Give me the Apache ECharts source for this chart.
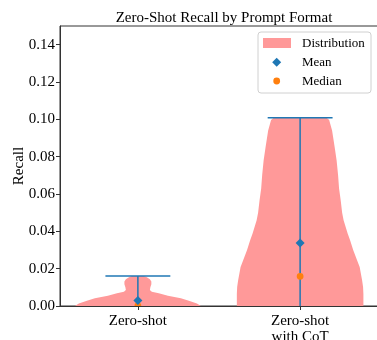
<!DOCTYPE html>
<html>
<head>
<meta charset="utf-8">
<script src="https://cdn.jsdelivr.net/npm/echarts@6/dist/echarts.min.js"></script>
<style>
  html, body { margin: 0; padding: 0; background: #fff; }
  #chart { width: 377px; height: 340px; }
</style>
</head>
<body>
<div id="chart"></div>
<script>
// Prompt formats (x positions 1 and 2)
const categories = ['Zero-shot', 'Zero-shot\nwith CoT'];
const positions = [1, 2];

// Violin outlines: recall value and estimated density half-width (x-axis units)
const zeroShotLevels = [0, 0.0014, 0.0028, 0.0041, 0.0055, 0.0068, 0.0076, 0.0086, 0.0100, 0.0116, 0.0131, 0.0143, 0.0154, 0.0161];
const zeroShotWidths = [0.388, 0.364, 0.314, 0.265, 0.185, 0.129, 0.086, 0.074, 0.077, 0.083, 0.083, 0.074, 0.055, 0.037];
const cotLevels = [0, 0.0030, 0.0066, 0.0102, 0.0138, 0.0209, 0.0245, 0.0300, 0.0352, 0.0388, 0.0460, 0.0500, 0.0567, 0.0630, 0.0700, 0.0780, 0.0850, 0.0940, 0.0996, 0.1008];
const cotWidths = [0.390, 0.390, 0.390, 0.388, 0.382, 0.367, 0.351, 0.327, 0.308, 0.293, 0.268, 0.259, 0.250, 0.240, 0.234, 0.225, 0.213, 0.197, 0.179, 0.163];

// Summary statistics per format
const minValues = [0, 0];
const maxValues = [0.0161, 0.1008];
const meanValues = [0.0030, 0.0338];
const medianValues = [0.0, 0.0159];

// Y tick values
const yTicks = [0, 0.02, 0.04, 0.06, 0.08, 0.10, 0.12, 0.14];

const FONT = '"Liberation Serif", "Times New Roman", serif';
const VIOLIN = '#ff9999';
const BLUE = '#1f77b4';
const ORANGE = '#ff7f0e';
const CAP_HALF = 0.2;

const violins = [
  { levels: zeroShotLevels, widths: zeroShotWidths },
  { levels: cotLevels, widths: cotWidths }
];

const chart = echarts.init(document.getElementById('chart'), null, { renderer: 'canvas' });

function violinItem(params, api) {
  const i = params.dataIndex;
  const pos = positions[i];
  const v = violins[i];
  const pts = [];
  for (let k = 0; k < v.levels.length; k++) pts.push(api.coord([pos + v.widths[k], v.levels[k]]));
  for (let k = v.levels.length - 1; k >= 0; k--) pts.push(api.coord([pos - v.widths[k], v.levels[k]]));
  return { type: 'polygon', shape: { points: pts, smooth: 0 }, style: { fill: VIOLIN, stroke: null } };
}

// Min-max range line with a cap at the maximum
function rangeItem(params, api) {
  const i = params.dataIndex;
  const pos = positions[i];
  const bottom = api.coord([pos, minValues[i]]);
  const top = api.coord([pos, maxValues[i]]);
  const capL = api.coord([pos - CAP_HALF, maxValues[i]]);
  const capR = api.coord([pos + CAP_HALF, maxValues[i]]);
  const ls = { stroke: BLUE, lineWidth: 1.5 };
  return {
    type: 'group',
    children: [
      { type: 'line', shape: { x1: bottom[0], y1: bottom[1], x2: top[0], y2: top[1] }, style: ls },
      { type: 'line', shape: { x1: capL[0], y1: capL[1], x2: capR[0], y2: capR[1] }, style: ls }
    ]
  };
}

function medianItem(params, api) {
  const p = api.coord([positions[params.dataIndex], medianValues[params.dataIndex]]);
  return { type: 'circle', shape: { cx: p[0], cy: p[1], r: 3.4 }, style: { fill: ORANGE } };
}

function meanItem(params, api) {
  const p = api.coord([positions[params.dataIndex], meanValues[params.dataIndex]]);
  const r = 4.5;
  return {
    type: 'polygon',
    shape: { points: [[p[0], p[1] - r], [p[0] + r, p[1]], [p[0], p[1] + r], [p[0] - r, p[1]]] },
    style: { fill: BLUE }
  };
}

// Legend box drawn with graphic elements
const legendX = 258, legendY = 32, legendW = 113, legendH = 61;
const legendFont = '13px ' + FONT;
const legendGraphic = [
  { type: 'rect', x: legendX, y: legendY, z: 100,
    shape: { width: legendW, height: legendH, r: 3 },
    style: { fill: 'rgba(255,255,255,0.85)', stroke: '#d0d0d0', lineWidth: 1 } },
  { type: 'rect', x: 263, y: 38, z: 101, shape: { width: 28, height: 10 }, style: { fill: VIOLIN } },
  { type: 'polygon', z: 101, shape: { points: [[276.7, 57.8], [281.2, 62.3], [276.7, 66.8], [272.2, 62.3]] }, style: { fill: BLUE } },
  { type: 'circle', z: 101, shape: { cx: 276.7, cy: 81, r: 3.4 }, style: { fill: ORANGE } },
  { type: 'text', x: 302, y: 43.5, z: 101, style: { text: 'Distribution', font: legendFont, fill: '#000', verticalAlign: 'middle' } },
  { type: 'text', x: 302, y: 62.5, z: 101, style: { text: 'Mean', font: legendFont, fill: '#000', verticalAlign: 'middle' } },
  { type: 'text', x: 302, y: 81.5, z: 101, style: { text: 'Median', font: legendFont, fill: '#000', verticalAlign: 'middle' } }
];

chart.setOption({
  animation: false,
  backgroundColor: '#fff',
  textStyle: { fontFamily: FONT },
  title: {
    text: 'Zero-Shot Recall by Prompt Format',
    left: 219, top: 6, textAlign: 'center',
    textStyle: { fontFamily: FONT, fontSize: 15, fontWeight: 'normal', color: '#000' }
  },
  grid: {
    left: 60, top: 26, width: 318, bottom: 34,
    outerBoundsMode: 'none', containLabel: false,
    show: true, borderColor: '#333', borderWidth: 1, backgroundColor: 'transparent'
  },
  xAxis: {
    type: 'value', min: 0.52, max: 2.48, z: 5,
    splitLine: { show: false },
    axisLine: { lineStyle: { color: '#333', width: 1 } },
    axisTick: { show: true, length: 4, customValues: positions, lineStyle: { color: '#333' } },
    axisLabel: {
      customValues: positions,
      formatter: (v) => categories[Math.round(v) - 1] || '',
      fontFamily: FONT, fontSize: 15, color: '#000', margin: 7, lineHeight: 16
    }
  },
  yAxis: {
    type: 'value', min: 0, max: 0.15, z: 5,
    name: 'Recall', nameLocation: 'middle', nameGap: 33, nameMoveOverlap: false,
    nameTextStyle: { fontFamily: FONT, fontSize: 15, color: '#000' },
    splitLine: { show: false },
    axisLine: { show: true, lineStyle: { color: '#333', width: 1 } },
    axisTick: { show: true, length: 4, customValues: yTicks, lineStyle: { color: '#333' } },
    axisLabel: {
      customValues: yTicks,
      formatter: (v) => v.toFixed(2),
      fontFamily: FONT, fontSize: 15, color: '#000', margin: 5
    }
  },
  series: [
    { name: 'Distribution', type: 'custom', clip: true, renderItem: violinItem, data: positions, z: 1 },
    { name: 'Range', type: 'custom', clip: true, renderItem: rangeItem, data: positions, z: 2 },
    { name: 'Median', type: 'custom', clip: true, renderItem: medianItem, data: positions, z: 3 },
    { name: 'Mean', type: 'custom', clip: true, renderItem: meanItem, data: positions, z: 4 }
  ],
  graphic: legendGraphic
});
</script>
</body>
</html>
